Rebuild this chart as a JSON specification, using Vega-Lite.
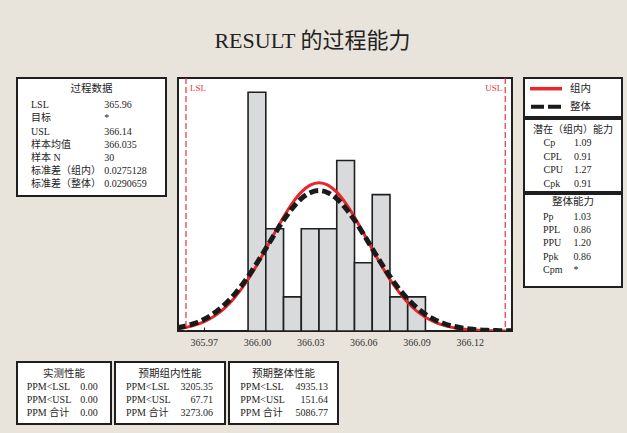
{
  "$schema": "https://vega.github.io/schema/vega-lite/v6.json",
  "background": "#e9e4db",
  "padding": {"left": 16, "top": 30, "right": 6, "bottom": 12},
  "title": {
    "text": "RESULT 的过程能力",
    "anchor": "middle",
    "font": "Liberation Serif, Noto Sans CJK SC",
    "fontSize": 22,
    "fontWeight": "normal",
    "color": "#222222",
    "offset": 23,
    "dx": -7
  },
  "config": {
    "view": {"fill": "white", "stroke": "#1f1f1f", "strokeWidth": 2},
    "text": {"font": "Liberation Serif, Noto Sans CJK SC", "fontSize": 10, "color": "#1e1e1e", "baseline": "middle"}
  },
  "datasets": {
    "bins": [
      {"lo": 365.995, "hi": 366.005, "count": 7},
      {"lo": 366.005, "hi": 366.015, "count": 3},
      {"lo": 366.015, "hi": 366.025, "count": 1},
      {"lo": 366.025, "hi": 366.035, "count": 3},
      {"lo": 366.035, "hi": 366.045, "count": 3},
      {"lo": 366.045, "hi": 366.055, "count": 5},
      {"lo": 366.055, "hi": 366.065, "count": 2},
      {"lo": 366.065, "hi": 366.075, "count": 4},
      {"lo": 366.075, "hi": 366.085, "count": 1},
      {"lo": 366.085, "hi": 366.095, "count": 1}
    ],
    "fits": [
      {"x": 365.955, "w": 0.0635, "o": 0.0933},
      {"x": 365.960, "w": 0.1059, "o": 0.1475},
      {"x": 365.965, "w": 0.1709, "o": 0.2266},
      {"x": 365.970, "w": 0.2670, "o": 0.3378},
      {"x": 365.975, "w": 0.4034, "o": 0.4890},
      {"x": 365.980, "w": 0.5898, "o": 0.6873},
      {"x": 365.985, "w": 0.8343, "o": 0.9377},
      {"x": 365.990, "w": 1.1476, "o": 1.2421},
      {"x": 365.995, "w": 1.5118, "o": 1.5973},
      {"x": 366.000, "w": 1.9368, "o": 1.9942},
      {"x": 366.005, "w": 2.4006, "o": 2.4172},
      {"x": 366.010, "w": 2.8789, "o": 2.8446},
      {"x": 366.015, "w": 3.3401, "o": 3.2496},
      {"x": 366.020, "w": 3.7494, "o": 3.6043},
      {"x": 366.025, "w": 4.0720, "o": 3.8810},
      {"x": 366.030, "w": 4.2788, "o": 4.0571},
      {"x": 366.035, "w": 4.3501, "o": 4.1176},
      {"x": 366.040, "w": 4.2788, "o": 4.0571},
      {"x": 366.045, "w": 4.0720, "o": 3.8810},
      {"x": 366.050, "w": 3.7494, "o": 3.6043},
      {"x": 366.055, "w": 3.3401, "o": 3.2496},
      {"x": 366.060, "w": 2.8789, "o": 2.8446},
      {"x": 366.065, "w": 2.4006, "o": 2.4172},
      {"x": 366.070, "w": 1.9368, "o": 1.9942},
      {"x": 366.075, "w": 1.5118, "o": 1.5973},
      {"x": 366.080, "w": 1.1476, "o": 1.2421},
      {"x": 366.085, "w": 0.8343, "o": 0.9377},
      {"x": 366.090, "w": 0.5898, "o": 0.6873},
      {"x": 366.095, "w": 0.4034, "o": 0.4890},
      {"x": 366.100, "w": 0.2670, "o": 0.3378},
      {"x": 366.105, "w": 0.1709, "o": 0.2266},
      {"x": 366.110, "w": 0.1059, "o": 0.1475},
      {"x": 366.115, "w": 0.0635, "o": 0.0933},
      {"x": 366.120, "w": 0.0368, "o": 0.0572},
      {"x": 366.125, "w": 0.0207, "o": 0.0341},
      {"x": 366.130, "w": 0.0112, "o": 0.0197},
      {"x": 366.135, "w": 0.0059, "o": 0.0111},
      {"x": 366.140, "w": 0.0030, "o": 0.0060},
      {"x": 366.145, "w": 0.0015, "o": 0.0032}
    ],
    "limits": [
      {"lim": "LSL", "v": 365.96},
      {"lim": "USL", "v": 366.14}
    ],
    "process": [
      {"row": 1, "label": "LSL", "value": "365.96"},
      {"row": 2, "label": "目标", "value": "*"},
      {"row": 3, "label": "USL", "value": "366.14"},
      {"row": 4, "label": "样本均值", "value": "366.035"},
      {"row": 5, "label": "样本 N", "value": "30"},
      {"row": 6, "label": "标准差（组内）", "value": "0.0275128"},
      {"row": 7, "label": "标准差（整体）", "value": "0.0290659"}
    ],
    "potential": [
      {"row": 1, "label": "Cp", "value": "1.09"},
      {"row": 2, "label": "CPL", "value": "0.91"},
      {"row": 3, "label": "CPU", "value": "1.27"},
      {"row": 4, "label": "Cpk", "value": "0.91"}
    ],
    "overallCap": [
      {"row": 1, "label": "Pp", "value": "1.03"},
      {"row": 2, "label": "PPL", "value": "0.86"},
      {"row": 3, "label": "PPU", "value": "1.20"},
      {"row": 4, "label": "Ppk", "value": "0.86"},
      {"row": 5, "label": "Cpm", "value": "*"}
    ],
    "observed": [
      {"row": 1, "label": "PPM<LSL", "value": "0.00"},
      {"row": 2, "label": "PPM<USL", "value": "0.00"},
      {"row": 3, "label": "PPM 合计", "value": "0.00"}
    ],
    "expWithin": [
      {"row": 1, "label": "PPM<LSL", "value": "3205.35"},
      {"row": 2, "label": "PPM<USL", "value": "67.71"},
      {"row": 3, "label": "PPM 合计", "value": "3273.06"}
    ],
    "expOverall": [
      {"row": 1, "label": "PPM<LSL", "value": "4935.13"},
      {"row": 2, "label": "PPM<USL", "value": "151.64"},
      {"row": 3, "label": "PPM 合计", "value": "5086.77"}
    ],
    "legend": [
      {"fit": "组内"},
      {"fit": "整体"}
    ]
  },
  "bounds": "full",
  "spacing": 13,
  "vconcat": [
    {
      "bounds": "flush",
      "spacing": 12,
      "hconcat": [
        {
          "width": 149,
          "height": 118,
          "data": {"name": "process"},
          "layer": [
            {
              "data": {"values": [{"row": 0, "head": "过程数据"}]},
              "mark": {"type": "text", "fontSize": 10.5, "dy": -2.8},
              "encoding": {
                "y": {"field": "row", "type": "ordinal", "scale": {"type": "point", "range": [14.1, 106.3], "padding": 0}, "axis": null},
                "text": {"field": "head"}
              }
            },
            {
              "mark": {"type": "text", "align": "left"},
              "encoding": {
                "x": {"datum": "label", "type": "nominal", "scale": {"type": "point", "domain": ["label", "value"], "range": [14, 87.3], "padding": 0}, "axis": null},
                "y": {"field": "row", "type": "ordinal", "axis": null},
                "text": {"field": "label"}
              }
            },
            {
              "mark": {"type": "text", "align": "left"},
              "encoding": {
                "x": {"datum": "value", "type": "nominal", "axis": null},
                "y": {"field": "row", "type": "ordinal", "axis": null},
                "text": {"field": "value"}
              }
            }
          ]
        },
        {
          "width": 334,
          "height": 253,
          "layer": [
            {
              "data": {"name": "bins"},
              "mark": {"type": "rect", "fill": "#d9dadc", "stroke": "#1f1f1f", "strokeWidth": 1.6},
              "encoding": {
                "x": {
                  "field": "lo",
                  "type": "quantitative",
                  "scale": {"domain": [365.9555, 366.1438], "nice": false, "zero": false},
                  "axis": {
                    "values": [365.97, 366.0, 366.03, 366.06, 366.09, 366.12],
                    "format": ".2f",
                    "title": null,
                    "domain": false,
                    "grid": false,
                    "tickSize": -4,
                    "tickColor": "#1f1f1f",
                    "labelPadding": 10,
                    "labelFont": "Liberation Serif",
                    "labelFontSize": 10,
                    "labelColor": "#333333"
                  }
                },
                "x2": {"field": "hi"},
                "y": {"field": "count", "type": "quantitative", "scale": {"domain": [0, 7.42], "nice": false}, "axis": null},
                "y2": {"datum": 0}
              }
            },
            {
              "data": {"name": "fits"},
              "mark": {"type": "line", "color": "#e8262b", "strokeWidth": 3, "interpolate": "monotone", "clip": true},
              "encoding": {
                "x": {"field": "x", "type": "quantitative"},
                "y": {"field": "w", "type": "quantitative"}
              }
            },
            {
              "data": {"name": "fits"},
              "mark": {"type": "line", "color": "#1a1a1a", "strokeWidth": 5, "strokeDash": [9, 4], "interpolate": "monotone", "clip": true},
              "encoding": {
                "x": {"field": "x", "type": "quantitative"},
                "y": {"field": "o", "type": "quantitative"}
              }
            },
            {
              "data": {"name": "limits"},
              "mark": {"type": "rule", "color": "#e8333c", "strokeWidth": 1.2, "strokeDash": [6, 3]},
              "encoding": {
                "x": {"field": "v", "type": "quantitative"}
              }
            },
            {
              "data": {"name": "limits"},
              "transform": [{"filter": "datum.lim == 'LSL'"}],
              "mark": {"type": "text", "color": "#e8333c", "fontSize": 9, "align": "left", "baseline": "top", "dx": 4, "dy": 6},
              "encoding": {
                "x": {"field": "v", "type": "quantitative"},
                "y": {"datum": 7.42},
                "text": {"field": "lim"}
              }
            },
            {
              "data": {"name": "limits"},
              "transform": [{"filter": "datum.lim == 'USL'"}],
              "mark": {"type": "text", "color": "#e8333c", "fontSize": 9, "align": "right", "baseline": "top", "dx": -3, "dy": 6},
              "encoding": {
                "x": {"field": "v", "type": "quantitative"},
                "y": {"datum": 7.42},
                "text": {"field": "lim"}
              }
            }
          ]
        },
        {
          "bounds": "flush",
          "spacing": 2,
          "vconcat": [
            {
              "width": 98,
              "height": 39,
              "data": {"name": "legend"},
              "layer": [
                {
                  "transform": [{"filter": "datum.fit == '组内'"}],
                  "mark": {"type": "point", "shape": "stroke", "size": 1024, "stroke": "#e8262b", "strokeWidth": 3.5, "filled": false, "opacity": 1},
                  "encoding": {
                    "x": {"datum": "sym", "type": "nominal", "scale": {"type": "point", "domain": ["sym", "name"], "range": [22, 46], "padding": 0}, "axis": null},
                    "y": {"field": "fit", "type": "nominal", "scale": {"type": "point", "domain": ["组内", "整体"], "range": [10.7, 28.7], "padding": 0}, "axis": null}
                  }
                },
                {
                  "transform": [{"filter": "datum.fit == '整体'"}],
                  "mark": {"type": "point", "shape": "stroke", "size": 900, "stroke": "#1a1a1a", "strokeWidth": 4, "strokeDash": [13, 4], "filled": false, "opacity": 1},
                  "encoding": {
                    "x": {"datum": "sym", "type": "nominal", "axis": null},
                    "y": {"field": "fit", "type": "nominal", "axis": null}
                  }
                },
                {
                  "mark": {"type": "text", "align": "left", "fontSize": 10.5},
                  "encoding": {
                    "x": {"datum": "name", "type": "nominal", "axis": null},
                    "y": {"field": "fit", "type": "nominal", "axis": null},
                    "text": {"field": "fit"}
                  }
                }
              ]
            },
            {
              "width": 98,
              "height": 73,
              "data": {"name": "potential"},
              "layer": [
                {
                  "data": {"values": [{"row": 0, "head": "潜在（组内）能力"}]},
                  "mark": {"type": "text", "fontSize": 10, "dy": 0.8},
                  "encoding": {
                    "y": {"field": "row", "type": "ordinal", "scale": {"type": "point", "range": [10.5, 64.5], "padding": 0}, "axis": null},
                    "text": {"field": "head"}
                  }
                },
                {
                  "mark": {"type": "text", "align": "left"},
                  "encoding": {
                    "x": {"datum": "label", "type": "nominal", "scale": {"type": "point", "domain": ["label", "value"], "range": [19.5, 50], "padding": 0}, "axis": null},
                    "y": {"field": "row", "type": "ordinal", "axis": null},
                    "text": {"field": "label"}
                  }
                },
                {
                  "mark": {"type": "text", "align": "left"},
                  "encoding": {
                    "x": {"datum": "value", "type": "nominal", "axis": null},
                    "y": {"field": "row", "type": "ordinal", "axis": null},
                    "text": {"field": "value"}
                  }
                }
              ]
            },
            {
              "width": 98,
              "height": 93,
              "data": {"name": "overallCap"},
              "layer": [
                {
                  "data": {"values": [{"row": 0, "head": "整体能力"}]},
                  "mark": {"type": "text", "fontSize": 10.5, "dy": -1.3},
                  "encoding": {
                    "y": {"field": "row", "type": "ordinal", "scale": {"type": "point", "range": [9.3, 76], "padding": 0}, "axis": null},
                    "text": {"field": "head"}
                  }
                },
                {
                  "mark": {"type": "text", "align": "left"},
                  "encoding": {
                    "x": {"datum": "label", "type": "nominal", "scale": {"type": "point", "domain": ["label", "value"], "range": [19, 49.5], "padding": 0}, "axis": null},
                    "y": {"field": "row", "type": "ordinal", "axis": null},
                    "text": {"field": "label"}
                  }
                },
                {
                  "mark": {"type": "text", "align": "left"},
                  "encoding": {
                    "x": {"datum": "value", "type": "nominal", "axis": null},
                    "y": {"field": "row", "type": "ordinal", "axis": null},
                    "text": {"field": "value"}
                  }
                }
              ]
            }
          ]
        }
      ]
    },
    {
      "bounds": "flush",
      "spacing": 4,
      "hconcat": [
        {
          "width": 94,
          "height": 62,
          "data": {"name": "observed"},
          "layer": [
            {
              "data": {"values": [{"row": 0, "head": "实测性能"}]},
              "mark": {"type": "text", "fontSize": 10.5},
              "encoding": {
                "y": {"field": "row", "type": "ordinal", "scale": {"type": "point", "range": [11.5, 51], "padding": 0}, "axis": null},
                "text": {"field": "head"}
              }
            },
            {
              "mark": {"type": "text", "align": "left"},
              "encoding": {
                "x": {"datum": "label", "type": "nominal", "scale": {"type": "point", "domain": ["label", "value"], "range": [9.7, 80.7], "padding": 0}, "axis": null},
                "y": {"field": "row", "type": "ordinal", "axis": null},
                "text": {"field": "label"}
              }
            },
            {
              "mark": {"type": "text", "align": "right"},
              "encoding": {
                "x": {"datum": "value", "type": "nominal", "axis": null},
                "y": {"field": "row", "type": "ordinal", "axis": null},
                "text": {"field": "value"}
              }
            }
          ]
        },
        {
          "width": 110,
          "height": 62,
          "data": {"name": "expWithin"},
          "layer": [
            {
              "data": {"values": [{"row": 0, "head": "预期组内性能"}]},
              "mark": {"type": "text", "fontSize": 10.5},
              "encoding": {
                "y": {"field": "row", "type": "ordinal", "scale": {"type": "point", "range": [11.5, 51], "padding": 0}, "axis": null},
                "text": {"field": "head"}
              }
            },
            {
              "mark": {"type": "text", "align": "left"},
              "encoding": {
                "x": {"datum": "label", "type": "nominal", "scale": {"type": "point", "domain": ["label", "value"], "range": [11, 98], "padding": 0}, "axis": null},
                "y": {"field": "row", "type": "ordinal", "axis": null},
                "text": {"field": "label"}
              }
            },
            {
              "mark": {"type": "text", "align": "right"},
              "encoding": {
                "x": {"datum": "value", "type": "nominal", "axis": null},
                "y": {"field": "row", "type": "ordinal", "axis": null},
                "text": {"field": "value"}
              }
            }
          ]
        },
        {
          "width": 109,
          "height": 62,
          "data": {"name": "expOverall"},
          "layer": [
            {
              "data": {"values": [{"row": 0, "head": "预期整体性能"}]},
              "mark": {"type": "text", "fontSize": 10.5},
              "encoding": {
                "y": {"field": "row", "type": "ordinal", "scale": {"type": "point", "range": [11.5, 51], "padding": 0}, "axis": null},
                "text": {"field": "head"}
              }
            },
            {
              "mark": {"type": "text", "align": "left"},
              "encoding": {
                "x": {"datum": "label", "type": "nominal", "scale": {"type": "point", "domain": ["label", "value"], "range": [11.3, 99], "padding": 0}, "axis": null},
                "y": {"field": "row", "type": "ordinal", "axis": null},
                "text": {"field": "label"}
              }
            },
            {
              "mark": {"type": "text", "align": "right"},
              "encoding": {
                "x": {"datum": "value", "type": "nominal", "axis": null},
                "y": {"field": "row", "type": "ordinal", "axis": null},
                "text": {"field": "value"}
              }
            }
          ]
        }
      ]
    }
  ]
}
